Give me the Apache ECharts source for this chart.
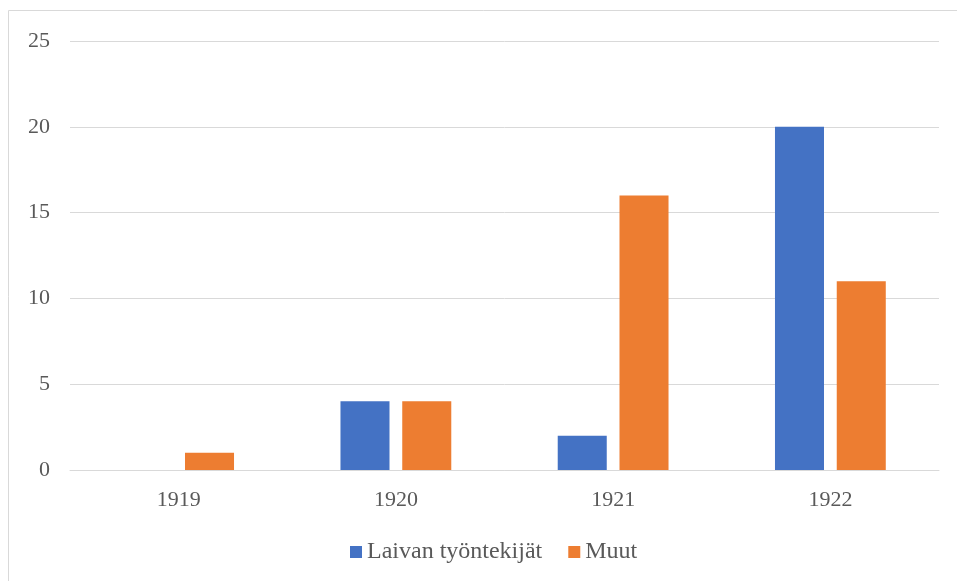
<!DOCTYPE html>
<html>
<head>
    <meta charset="utf-8">
    <title>ECharts</title>
    <script src="https://cdn.jsdelivr.net/npm/echarts@6/dist/echarts.min.js"></script>
    <style type="text/css">
        html, body { margin: 0; padding: 0; background: #fff; }
        #main { width: 957px; height: 581px; }
    </style>
</head>
<body>
<div id="main"></div>
<script type="text/javascript">
    var years = ['1919', '1920', '1921', '1922'];
    var laivanTyontekijat = [0, 4, 2, 20];
    var muut = [1, 4, 16, 11];
    var yTicks = {min: 0, max: 25, interval: 5};

    var chart = echarts.init(document.getElementById('main'));
    var textColor = '#595959';
    var font = '"Liberation Serif", "Times New Roman", serif';

    chart.setOption({
        animation: false,
        textStyle: {fontFamily: font},
        graphic: [{
            type: 'rect',
            shape: {x: 8.5, y: 10.5, width: 960, height: 600},
            style: {fill: 'none', stroke: '#d9d9d9', lineWidth: 1},
            silent: true
        }],
        grid: {left: 70, right: 18, top: 41, bottom: 111},
        legend: {
            left: 345,
            top: 535,
            itemWidth: 12,
            itemHeight: 12,
            itemGap: 26,
            icon: 'rect',
            textStyle: {color: textColor, fontSize: 24, fontFamily: font, padding: [0, 0, 0, 0]},
            data: ['Laivan työntekijät', 'Muut']
        },
        xAxis: {
            type: 'category',
            data: years,
            axisLine: {lineStyle: {color: '#d9d9d9', width: 1}},
            axisTick: {show: false},
            axisLabel: {color: textColor, fontSize: 22, fontFamily: font, margin: 19}
        },
        yAxis: {
            type: 'value',
            min: yTicks.min,
            max: yTicks.max,
            interval: yTicks.interval,
            axisLine: {show: false},
            axisTick: {show: false},
            splitLine: {lineStyle: {color: '#d9d9d9', width: 1}},
            axisLabel: {color: textColor, fontSize: 22, fontFamily: font, margin: 20}
        },
        series: [
            {
                name: 'Laivan työntekijät',
                type: 'bar',
                data: laivanTyontekijat,
                itemStyle: {color: '#4472c4'},
                barGap: '26%',
                barCategoryGap: '49%'
            },
            {
                name: 'Muut',
                type: 'bar',
                data: muut,
                itemStyle: {color: '#ed7d31'}
            }
        ]
    });
</script>
</body>
</html>
